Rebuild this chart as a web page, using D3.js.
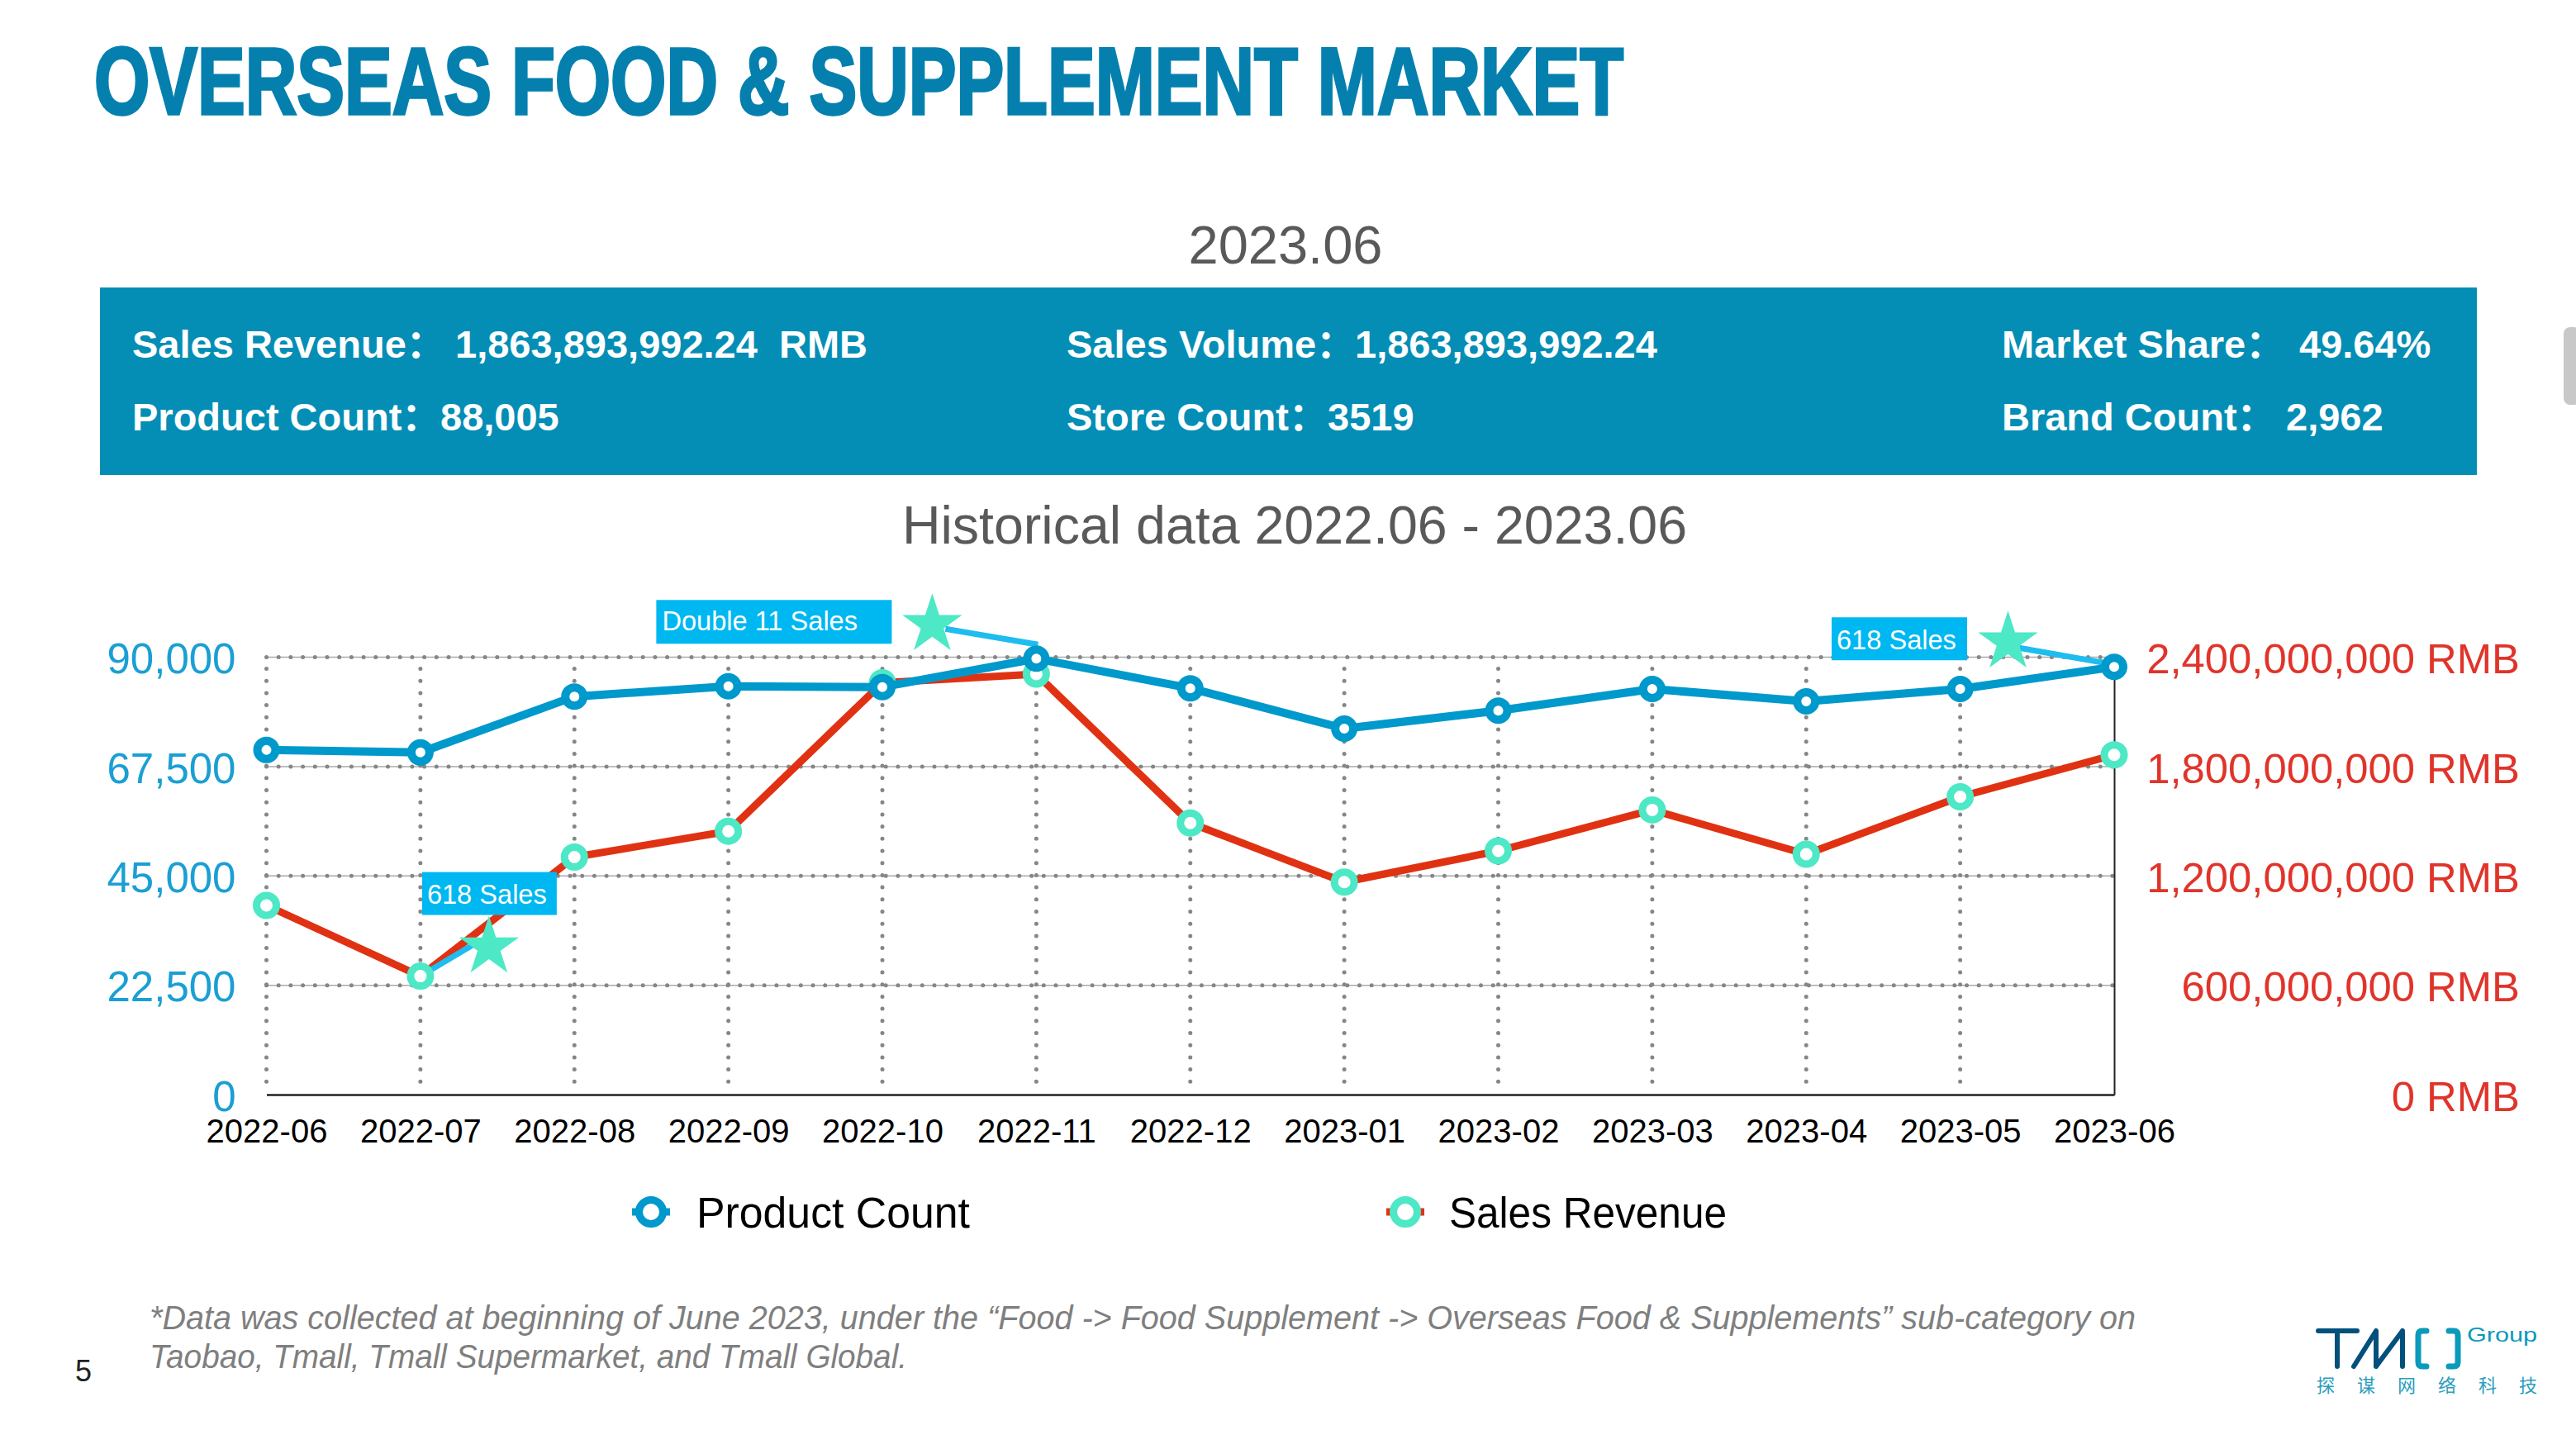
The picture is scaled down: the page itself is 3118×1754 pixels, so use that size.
<!DOCTYPE html>
<html>
<head>
<meta charset="utf-8">
<script src="https://cdn.jsdelivr.net/npm/d3@7"></script>
<style>
    html, body { margin: 0; padding: 0; background: #fff; overflow: hidden; }
    text { font-family: "Liberation Sans", "Noto Sans CJK SC", sans-serif; }
</style>
</head>
<body>
<div id="chart"></div>
<script>
// chart values
const months = ['2022-06', '2022-07', '2022-08', '2022-09', '2022-10', '2022-11', '2022-12',
    '2023-01', '2023-02', '2023-03', '2023-04', '2023-05', '2023-06'];
const productCount = [70900, 70400, 81900, 84000, 83850, 89700, 83600, 75300, 79000, 83450, 80900, 83450, 88005];
const salesRevenue = [1038e6, 650e6, 1303e6, 1445e6, 2260e6, 2307e6, 1490e6, 1166e6, 1337e6, 1562e6, 1319e6, 1634e6, 1864e6];
const countTicks = [0, 22500, 45000, 67500, 90000];
const revenueTicks = [0, 600e6, 1200e6, 1800e6, 2400e6];
const seriesNames = ['Product Count', 'Sales Revenue'];

const bannerLabels = ['Sales Revenue：', 'Sales Volume：', 'Market Share：', 'Product Count：', 'Store Count：', 'Brand Count：'];
const bannerValues = ['1,863,893,992.24', '1,863,893,992.24', '49.64%', '88,005', '3519', '2,962'];

const eventLabels = ['618 Sales', 'Double 11 Sales', '618 Sales'];
const eventMonths = ['2022-07', '2022-11', '2023-06'];

const WIDTH = 3118;
const HEIGHT = 1754;
const BLUE = '#0099cc';
const RED = '#e03212';
const GREEN = '#4de8c5';
const CYAN = '#00b8f1';

const svg = d3.select('#chart').append('svg')
    .attr('width', WIDTH)
    .attr('height', HEIGHT)
    .style('display', 'block');

svg.append('rect').attr('width', WIDTH).attr('height', HEIGHT).attr('fill', '#fff');

// title block
svg.append('text')
    .attr('x', 114).attr('y', 138)
    .attr('font-size', 115).attr('font-weight', 'bold')
    .attr('fill', '#0580ae').attr('stroke', '#0580ae').attr('stroke-width', 3.5)
    .attr('textLength', 1851).attr('lengthAdjust', 'spacingAndGlyphs')
    .text('OVERSEAS FOOD & SUPPLEMENT MARKET');

svg.append('text')
    .attr('x', 1556).attr('y', 319)
    .attr('text-anchor', 'middle')
    .attr('font-size', 65).attr('fill', '#595959')
    .text('2023.06');

svg.append('rect')
    .attr('x', 121).attr('y', 348)
    .attr('width', 2877).attr('height', 227)
    .attr('fill', '#058eb5');

const labelX = [160, 1291, 2423, 160, 1291, 2423];
const valueX = [551, 1640, 2783, 533, 1607, 2767];
const rowY = [433, 521];
const banner = svg.append('g')
    .attr('fill', '#fff')
    .attr('font-size', 47)
    .attr('font-weight', 'bold');
banner.selectAll('text.label').data(bannerLabels).enter()
    .append('text').attr('class', 'label')
    .attr('x', (d, i) => labelX[i])
    .attr('y', (d, i) => rowY[i < 3 ? 0 : 1])
    .text(d => d);
banner.selectAll('text.value').data(bannerValues).enter()
    .append('text').attr('class', 'value')
    .attr('x', (d, i) => valueX[i])
    .attr('y', (d, i) => rowY[i < 3 ? 0 : 1])
    .text(d => d);
banner.append('text').attr('x', 943).attr('y', rowY[0]).text('RMB');

svg.append('text')
    .attr('x', 1567).attr('y', 658)
    .attr('text-anchor', 'middle')
    .attr('font-size', 64.5).attr('fill', '#595959')
    .text('Historical data 2022.06 - 2023.06');

// scales
const plot = { left: 322.5, right: 2559, top: 795.5, bottom: 1325 };
const xScale = d3.scalePoint().domain(months).range([plot.left, plot.right]);
const yCount = d3.scaleLinear().domain([0, 90000]).range([plot.bottom, plot.top]);
const yRevenue = d3.scaleLinear().domain([0, 2400e6]).range([plot.bottom, plot.top]);

// grid: horizontal lines are thin solid plus dots, vertical lines are dots only
const grid = svg.append('g');
const gridY = countTicks.filter(d => d > 0);
grid.selectAll('line.h').data(gridY).enter().append('line')
    .attr('x1', plot.left).attr('x2', plot.right)
    .attr('y1', d => yCount(d)).attr('y2', d => yCount(d))
    .attr('stroke', '#aaa').attr('stroke-width', 1.5);
grid.selectAll('line.hd').data(gridY).enter().append('line')
    .attr('x1', plot.left).attr('x2', plot.right)
    .attr('y1', d => yCount(d)).attr('y2', d => yCount(d))
    .attr('stroke', '#868686').attr('stroke-width', 5)
    .attr('stroke-linecap', 'round').attr('stroke-dasharray', '0 14.7');
grid.selectAll('line.v').data(months.slice(0, -1)).enter().append('line')
    .attr('x1', d => xScale(d)).attr('x2', d => xScale(d))
    .attr('y1', plot.top + 14).attr('y2', plot.bottom - 8)
    .attr('stroke', '#868686').attr('stroke-width', 5)
    .attr('stroke-linecap', 'round').attr('stroke-dasharray', '0 14.7');

// axes
const xAxis = svg.append('g')
    .attr('transform', `translate(0,${plot.bottom})`)
    .call(d3.axisBottom(xScale).tickSize(0).tickPadding(30));
xAxis.select('.domain').attr('stroke', '#222').attr('stroke-width', 2.5);
xAxis.selectAll('text')
    .attr('font-family', '"Liberation Sans", sans-serif')
    .attr('font-size', 40).attr('fill', '#000');

const leftAxis = svg.append('g')
    .attr('transform', `translate(${plot.left},0)`)
    .call(d3.axisLeft(yCount).tickValues(countTicks).tickFormat(d3.format(',')).tickSize(0).tickPadding(37));
leftAxis.select('.domain').remove();
leftAxis.selectAll('text')
    .attr('font-family', '"Liberation Sans", sans-serif')
    .attr('font-size', 51).attr('fill', '#1a9fd4')
    .attr('y', 3);

const rightAxis = svg.append('g')
    .attr('transform', `translate(${plot.right},0)`)
    .call(d3.axisRight(yRevenue).tickValues(revenueTicks).tickFormat(d => `${d3.format(',')(d)} RMB`).tickSize(0));
rightAxis.select('.domain').attr('stroke', '#222').attr('stroke-width', 2);
rightAxis.selectAll('text')
    .attr('font-family', '"Liberation Sans", sans-serif')
    .attr('font-size', 50.8).attr('fill', '#e0342a')
    .attr('text-anchor', 'end')
    .attr('x', 3050 - plot.right)
    .attr('y', 3);

// callouts: offsets are measured from the marker each one points at
const calloutGeom = [
    { star: [83, -35], lineTo: [69, -41], lineFrom: [0, 0], box: [2, -126, 163, 52], text: [8, -88] },
    { star: [-126, -41], lineTo: [-110, -36], lineFrom: [2, -17], box: [-460, -71, 285, 53], text: [-453, -34] },
    { star: [-128.5, -30], lineTo: [-115, -23], lineFrom: [-1, -3], box: [-342, -60, 164, 52], text: [-336, -21] }
];
// the first callout points at the revenue marker, the others at product count
const calloutAnchor = i => {
    const ind = months.indexOf(eventMonths[i]);
    return [xScale(eventMonths[i]), i === 0 ? yRevenue(salesRevenue[ind]) : yCount(productCount[ind])];
};

// series
const lineCount = d3.line().x((d, i) => xScale(months[i])).y(d => yCount(d));
const lineRevenue = d3.line().x((d, i) => xScale(months[i])).y(d => yRevenue(d));

svg.append('path').datum(salesRevenue)
    .attr('d', lineRevenue).attr('fill', 'none')
    .attr('stroke', RED).attr('stroke-width', 9).attr('stroke-linejoin', 'round');

svg.append('g').selectAll('line').data(eventLabels).enter().append('line')
    .attr('x1', (d, i) => calloutAnchor(i)[0] + calloutGeom[i].lineFrom[0])
    .attr('y1', (d, i) => calloutAnchor(i)[1] + calloutGeom[i].lineFrom[1])
    .attr('x2', (d, i) => calloutAnchor(i)[0] + calloutGeom[i].lineTo[0])
    .attr('y2', (d, i) => calloutAnchor(i)[1] + calloutGeom[i].lineTo[1])
    .attr('stroke', '#1fbcf0').attr('stroke-width', 7);

svg.append('g').selectAll('circle').data(salesRevenue).enter().append('circle')
    .attr('cx', (d, i) => xScale(months[i]))
    .attr('cy', d => yRevenue(d))
    .attr('r', 12)
    .attr('fill', '#fff').attr('stroke', GREEN).attr('stroke-width', 9);

svg.append('path').datum(productCount)
    .attr('d', lineCount).attr('fill', 'none')
    .attr('stroke', BLUE).attr('stroke-width', 10).attr('stroke-linejoin', 'round');

svg.append('g').selectAll('circle').data(productCount).enter().append('circle')
    .attr('cx', (d, i) => xScale(months[i]))
    .attr('cy', d => yCount(d))
    .attr('r', 11)
    .attr('fill', '#fff').attr('stroke', BLUE).attr('stroke-width', 10);

const starPath = d3.symbol().type(d3.symbolStar).size(1621);
const calloutTop = svg.append('g');
calloutTop.selectAll('path').data(eventLabels).enter().append('path')
    .attr('d', starPath())
    .attr('fill', GREEN)
    .attr('transform', (d, i) => {
        const a = calloutAnchor(i);
        return `translate(${a[0] + calloutGeom[i].star[0]},${a[1] + calloutGeom[i].star[1]})`;
    });
calloutTop.selectAll('rect').data(eventLabels).enter().append('rect')
    .attr('x', (d, i) => calloutAnchor(i)[0] + calloutGeom[i].box[0])
    .attr('y', (d, i) => calloutAnchor(i)[1] + calloutGeom[i].box[1])
    .attr('width', (d, i) => calloutGeom[i].box[2])
    .attr('height', (d, i) => calloutGeom[i].box[3])
    .attr('fill', CYAN);
calloutTop.selectAll('text').data(eventLabels).enter().append('text')
    .attr('x', (d, i) => calloutAnchor(i)[0] + calloutGeom[i].text[0])
    .attr('y', (d, i) => calloutAnchor(i)[1] + calloutGeom[i].text[1])
    .attr('font-size', 32.6).attr('fill', '#fff')
    .text(d => d);

// legend
const legendX = [788, 1701];
const legendStroke = [BLUE, RED];
const legendRing = [BLUE, GREEN];
const legendTextX = [843, 1754];
const legendTextW = [331, 336];
const legend = svg.append('g');
legend.selectAll('line').data(seriesNames).enter().append('line')
    .attr('x1', (d, i) => legendX[i] - 23).attr('x2', (d, i) => legendX[i] + 23)
    .attr('y1', 1467).attr('y2', 1467)
    .attr('stroke', (d, i) => legendStroke[i]).attr('stroke-width', 9);
legend.selectAll('circle').data(seriesNames).enter().append('circle')
    .attr('cx', (d, i) => legendX[i]).attr('cy', 1467).attr('r', 14.5)
    .attr('fill', '#fff')
    .attr('stroke', (d, i) => legendRing[i]).attr('stroke-width', 9);
legend.selectAll('text').data(seriesNames).enter().append('text')
    .attr('x', (d, i) => legendTextX[i]).attr('y', 1486)
    .attr('font-size', 51).attr('fill', '#000')
    .attr('textLength', (d, i) => legendTextW[i]).attr('lengthAdjust', 'spacingAndGlyphs')
    .text(d => d);

// footnote and page number
const footnote = svg.append('g')
    .attr('font-size', 40).attr('font-style', 'italic').attr('fill', '#7f7f7f');
footnote.append('text').attr('x', 181).attr('y', 1609)
    .attr('textLength', 2404).attr('lengthAdjust', 'spacingAndGlyphs')
    .text('*Data was collected at beginning of June 2023, under the “Food -> Food Supplement -> Overseas Food & Supplements” sub-category on');
footnote.append('text').attr('x', 181).attr('y', 1656)
    .attr('textLength', 917).attr('lengthAdjust', 'spacingAndGlyphs')
    .text('Taobao, Tmall, Tmall Supermarket, and Tmall Global.');

svg.append('text')
    .attr('x', 91).attr('y', 1672)
    .attr('font-size', 36).attr('fill', '#222')
    .text('5');

// scrollbar thumb left in the screenshot
svg.append('rect')
    .attr('x', 3103).attr('y', 396)
    .attr('width', 20).attr('height', 94).attr('rx', 8)
    .attr('fill', '#c8c8c8');

// logo
const logo = svg.append('g')
    .attr('fill', 'none').attr('stroke-linecap', 'round').attr('stroke-linejoin', 'round');
logo.append('path')
    .attr('d', 'M2806 1611H2853M2829 1611V1654M2849 1654L2876 1611V1654M2876 1654L2908 1611V1654')
    .attr('stroke', '#04507c').attr('stroke-width', 6);
logo.append('path')
    .attr('d', 'M2937 1611H2932Q2927 1611 2927 1616V1649Q2927 1654 2932 1654H2937M2964 1611H2970Q2975 1611 2975 1616V1649Q2975 1654 2970 1654H2964')
    .attr('stroke', '#0a9aba').attr('stroke-width', 7);
svg.append('text')
    .attr('x', 2986).attr('y', 1624)
    .attr('font-size', 24).attr('fill', '#0a9aba')
    .attr('textLength', 85).attr('lengthAdjust', 'spacingAndGlyphs')
    .text('Group');
svg.append('g').selectAll('text').data(['探', '谋', '网', '络', '科', '技']).enter().append('text')
    .attr('x', (d, i) => 2815 + i * 49)
    .attr('y', 1685)
    .attr('text-anchor', 'middle')
    .attr('font-size', 22).attr('fill', '#2a9dbd')
    .style('font-family', '"Noto Sans CJK SC"')
    .text(d => d);
</script>
</body>
</html>
